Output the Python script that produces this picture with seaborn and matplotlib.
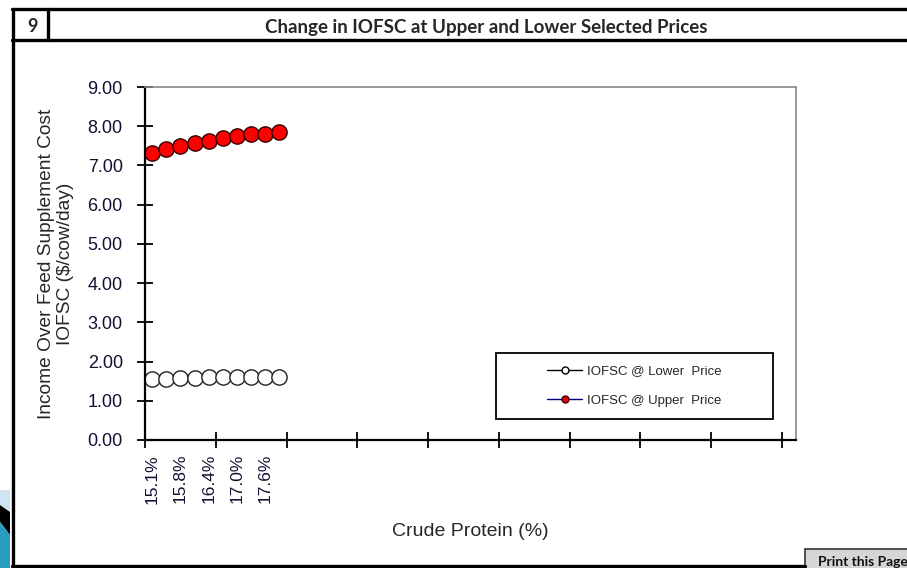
import numpy as np
import pandas as pd
import matplotlib
matplotlib.use("Agg")
import matplotlib.pyplot as plt
import seaborn as sns
from matplotlib.lines import Line2D
from matplotlib.patches import Rectangle, Polygon

# ---- data ----
category_index = list(range(10))
iofsc_lower = [1.56, 1.56, 1.59, 1.59, 1.60, 1.60, 1.60, 1.60, 1.60, 1.60]
iofsc_upper = [7.32, 7.41, 7.49, 7.57, 7.63, 7.70, 7.76, 7.79, 7.81, 7.86]
tick_positions = [0, 2, 4, 6, 8]
tick_labels = ['15.1%', '15.8%', '16.4%', '17.0%', '17.6%']
y_ticks = [0, 1, 2, 3, 4, 5, 6, 7, 8, 9]
series_names = ['IOFSC @ Lower  Price', 'IOFSC @ Upper  Price']

sns.set_theme(style="white")
plt.rcParams['font.family'] = ['Liberation Sans', 'DejaVu Sans']

W, H = 907, 568
fig = plt.figure(figsize=(W / 100, H / 100), dpi=100)
fig.patch.set_facecolor('white')

def fx(px):
    return px / W

def fy(py):
    return 1 - py / H

# ---- axes ----
L, R, T, B = 145, 796, 87, 440
ax = fig.add_axes([fx(L), fy(B), fx(R - L), (B - T) / H])

df = pd.DataFrame({
    'x': category_index * 2,
    'y': iofsc_lower + iofsc_upper,
    'series': [series_names[0]] * 10 + [series_names[1]] * 10,
})

sns.lineplot(data=df[df.series == series_names[0]], x='x', y='y', ax=ax,
             color='black', lw=1, marker='o', markersize=11,
             markerfacecolor='white', markeredgecolor='#222222',
             markeredgewidth=1.0, legend=False)
sns.lineplot(data=df[df.series == series_names[1]], x='x', y='y', ax=ax,
             color='#000080', lw=1, marker='o', markersize=11,
             markerfacecolor='#ff0000', markeredgecolor='#300000',
             markeredgewidth=1.0, legend=False)

ax.set_xlim(-0.5, 45.5)
ax.set_ylim(0, 9)
ax.set_yticks(y_ticks)
ax.set_yticklabels([f"{v:.2f}" for v in y_ticks], fontsize=13, color='#111133')
ax.set_xticks([-0.5 + 5 * k for k in range(10)])
ax.set_xticklabels([])
ax.set_xticks(tick_positions, minor=True)
ax.set_xticklabels(tick_labels, minor=True, rotation=90, fontsize=12.5,
                   color='#111133')
ax.tick_params(axis='y', which='major', direction='inout', length=12,
               width=1.3, color='black', pad=10, left=True)
ax.tick_params(axis='x', which='major', direction='inout', length=12,
               width=1.3, color='black', bottom=True)
ax.tick_params(axis='x', which='minor', length=0, pad=10, bottom=True)

for s in ['left', 'bottom']:
    ax.spines[s].set_color('black')
    ax.spines[s].set_linewidth(1.6)
for s in ['top', 'right']:
    ax.spines[s].set_color('#888888')
    ax.spines[s].set_linewidth(1.2)

ax.set_xlabel('Crude Protein (%)', fontsize=14, labelpad=14)
ax.set_ylabel('Income Over Feed Supplement Cost\nIOFSC ($/cow/day)',
              fontsize=13.8, labelpad=10, linespacing=1.15)

# ---- legend ----
lx0, lx1, ly0, ly1 = 496, 773, 353, 419
ax.add_patch(Rectangle((fx(lx0), fy(ly1)), fx(lx1 - lx0), (ly1 - ly0) / H,
                       transform=fig.transFigure, fill=False,
                       edgecolor='black', lw=1.3, zorder=5))
handles = [
    Line2D([], [], color='black', lw=1, marker='o', markersize=5,
           markerfacecolor='white', markeredgecolor='black'),
    Line2D([], [], color='#000080', lw=1, marker='o', markersize=5,
           markerfacecolor='#ee0000', markeredgecolor='#400000'),
]
fig.legend(handles, series_names, loc='center',
           bbox_to_anchor=(fx(lx0), fy(ly1), fx(lx1 - lx0), (ly1 - ly0) / H),
           bbox_transform=fig.transFigure, frameon=False, fontsize=9.5,
           handlelength=2.6, handletextpad=0.4, labelspacing=1.3)

# ---- page frame ----
def hline(y, x0, x1, lw=2.4, c='black'):
    fig.add_artist(Line2D([fx(x0), fx(x1)], [fy(y), fy(y)], color=c, lw=lw))

def vline(x, y0, y1, lw=2.4, c='black'):
    fig.add_artist(Line2D([fx(x), fx(x)], [fy(y0), fy(y1)], color=c, lw=lw))

hline(9, 12, 907)
hline(40, 12, 907)
vline(13, 9, 567)
vline(48, 9, 40)
hline(566, 12, 805)

fig.text(fx(32), fy(26), '9', fontsize=13, fontweight='bold',
         family=['Lato', 'DejaVu Sans'], ha='center', va='center')
fig.text(fx(486), fy(27), 'Change in IOFSC at Upper and Lower Selected Prices',
         fontsize=13.5, fontweight='bold', family=['Lato', 'DejaVu Sans'],
         ha='center', va='center')

# print button
fig.add_artist(Rectangle((fx(805), fy(575)), fx(110), 26 / H,
                         transform=fig.transFigure, facecolor='#d6d6d6',
                         edgecolor='#333333', lw=1.2))
fig.text(fx(818), fy(562), 'Print this Page', fontsize=10, fontweight='bold',
         family=['Lato', 'DejaVu Sans'], ha='left', va='center',
         color='#111111')

# decorative corner image (approximation)
fig.add_artist(Polygon([(fx(0), fy(490)), (fx(10), fy(490)), (fx(10), fy(512)),
                        (fx(0), fy(505))], closed=True,
                       transform=fig.transFigure, facecolor='#cfe6f2',
                       edgecolor='none'))
fig.add_artist(Polygon([(fx(0), fy(505)), (fx(10), fy(512)), (fx(10), fy(535)),
                        (fx(0), fy(522))], closed=True,
                       transform=fig.transFigure, facecolor='black',
                       edgecolor='none'))
fig.add_artist(Polygon([(fx(0), fy(522)), (fx(10), fy(535)), (fx(10), fy(568)),
                        (fx(0), fy(568))], closed=True,
                       transform=fig.transFigure, facecolor='#2a9cc0',
                       edgecolor='none'))

fig.savefig('out.png', dpi=100)
